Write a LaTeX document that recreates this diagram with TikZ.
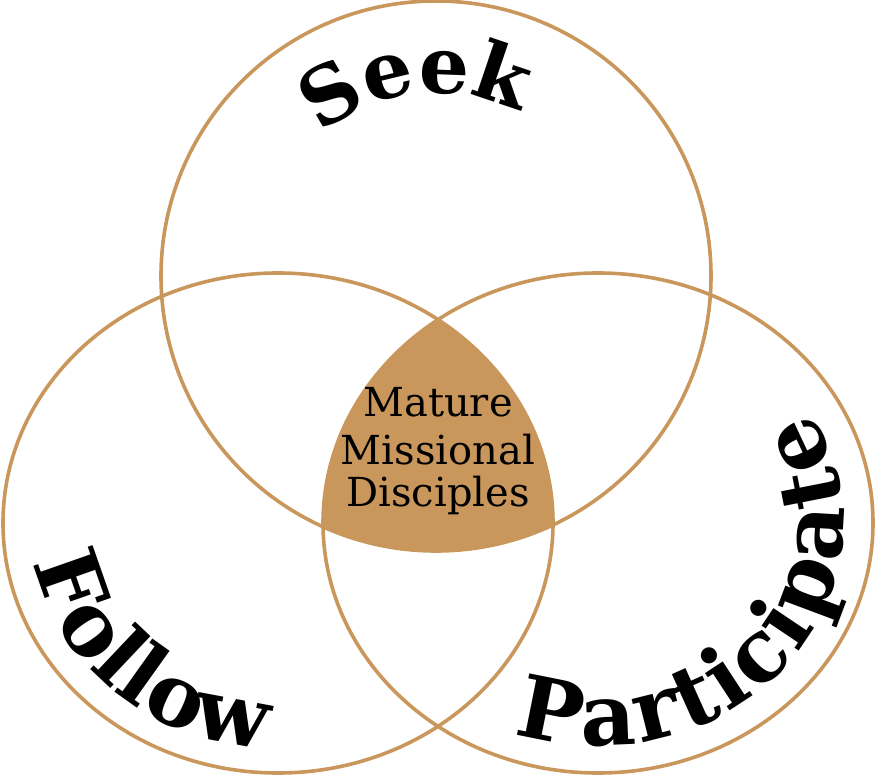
\documentclass[tikz,border=0pt]{standalone}
\usepackage{fontspec}
\setmainfont{DejaVu Serif}
\newfontfamily\arcfont{DejaVu Serif Bold}
\usetikzlibrary{decorations.text}
\definecolor{ringtan}{RGB}{201,151,91}

\begin{document}
\begin{tikzpicture}[
    x=1pt, y=1pt,
    ring/.style={draw=ringtan, line width=3.6pt},
    core/.style={font=\fontsize{40}{45}\selectfont, anchor=base, inner sep=0pt},
    arctext/.style 2 args={decorate, decoration={text along path, text align={fit to path}, text={|\arcfont\fontsize{#1}{#1}\selectfont|#2}}},
    arcmid/.style 2 args={decorate, decoration={text along path, text align=center, text={|\arcfont\fontsize{#1}{#1}\selectfont|#2}}}
]
\useasboundingbox (0,0) rectangle (876,777);

% ring centres
\coordinate (seekc) at (436,501);
\coordinate (followc) at (278,254);
\coordinate (partc) at (598,254);

% shared centre of the three rings
\begin{scope}
  \clip (seekc) circle[radius=275];
  \clip (followc) ellipse[x radius=275, y radius=250];
  \fill[ringtan] (partc) ellipse[x radius=275, y radius=250];
\end{scope}

% rings
\draw[ring] (seekc) circle[radius=275];
\draw[ring] (followc) ellipse[x radius=275, y radius=250];
\draw[ring] (partc) ellipse[x radius=275, y radius=250];

% curved labels
\path[arcmid={79}{Seek}] (seekc) ++(151:183) arc[start angle=151, end angle=41, radius=183];
\path[arctext={86}{Follow}] (followc) ++(190:247 and 225) arc[start angle=190, end angle=267, x radius=247, y radius=225];
\path[arctext={86}{Participate}] (partc) ++(250:245 and 223) arc[start angle=250, end angle=390, x radius=245, y radius=223];

% centre text
\node[core] (mature) at (438,360) {Mature};
\node[core] (missional) at (438,312) {Missional};
\node[core] (disciples) at (438,270) {Disciples};
\end{tikzpicture}
\end{document}
